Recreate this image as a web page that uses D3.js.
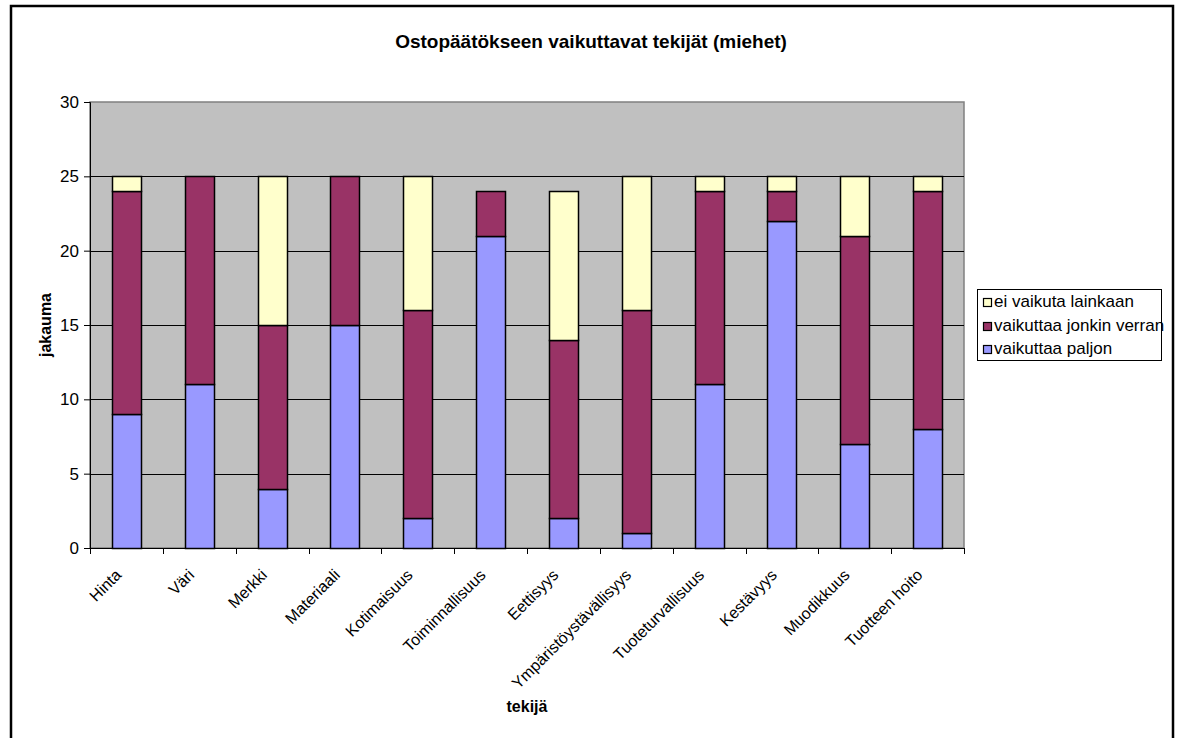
<!DOCTYPE html>
<html>
<head>
<meta charset="utf-8">
<script src="https://cdn.jsdelivr.net/npm/d3@7"></script>
<style>
  html, body { margin: 0; padding: 0; background: #fff; }
  svg { display: block; font-family: "Liberation Sans", Arial, sans-serif; }
</style>
</head>
<body>
<svg id="chart" width="1179" height="738"></svg>
<script>
// Categories (factors) and the three response levels, stacked bottom to top
const categories = ["Hinta", "Väri", "Merkki", "Materiaali", "Kotimaisuus", "Toiminnallisuus",
  "Eettisyys", "Ympäristöystävällisyys", "Tuoteturvallisuus", "Kestävyys", "Muodikkuus", "Tuotteen hoito"];
const paljon = [9, 11, 4, 15, 2, 21, 2, 1, 11, 22, 7, 8];
const jonkinVerran = [15, 14, 11, 10, 14, 3, 12, 15, 13, 2, 14, 16];
const eiLainkaan = [1, 0, 10, 0, 9, 0, 10, 9, 1, 1, 4, 1];
const seriesNames = ["vaikuttaa paljon", "vaikuttaa jonkin verran", "ei vaikuta lainkaan"];
const seriesColors = ["#9999ff", "#993366", "#ffffcc"];
const yTicks = [0, 5, 10, 15, 20, 25, 30];

const svg = d3.select("#chart");
const plot = { left: 90, top: 102, right: 964, bottom: 548 };
const FONT = 17;

// Outer chart border
svg.append("rect").attr("x", 11).attr("y", 6).attr("width", 1162).attr("height", 740)
  .attr("fill", "#fff").attr("stroke", "#000").attr("stroke-width", 2.5);

const rows = categories.map((c, i) => ({ cat: c, s0: paljon[i], s1: jonkinVerran[i], s2: eiLainkaan[i] }));
const stack = d3.stack().keys(["s0", "s1", "s2"])(rows);

const x = d3.scaleBand().domain(categories).range([plot.left, plot.right]).paddingInner(0.6).paddingOuter(0.3);
const xStep = d3.scaleBand().domain(categories).range([plot.left, plot.right]);
const y = d3.scaleLinear().domain([0, 30]).range([plot.bottom, plot.top]);

// Plot background
svg.append("rect").attr("x", plot.left).attr("y", plot.top)
  .attr("width", plot.right - plot.left).attr("height", plot.bottom - plot.top)
  .attr("fill", "#c0c0c0").attr("stroke", "#808080").attr("stroke-width", 1.5);

// Gridlines
svg.append("g").selectAll("line").data(yTicks.filter(t => t > 0 && t < 30)).join("line")
  .attr("x1", plot.left).attr("x2", plot.right)
  .attr("y1", d => Math.round(y(d)) + 0.5).attr("y2", d => Math.round(y(d)) + 0.5)
  .attr("stroke", "#000").attr("stroke-width", 1);

// Bars
svg.append("g").selectAll("g").data(stack).join("g")
  .attr("fill", (d, i) => seriesColors[i])
  .selectAll("rect").data(d => d.filter(p => p[1] - p[0] > 0)).join("rect")
  .attr("x", d => Math.round(x(d.data.cat)) + 0.5)
  .attr("width", Math.round(x.bandwidth()))
  .attr("y", d => Math.round(y(d[1])) + 0.5)
  .attr("height", d => Math.round(y(d[0])) - Math.round(y(d[1])))
  .attr("stroke", "#000").attr("stroke-width", 1.5);

// Y axis
const yAxis = d3.axisLeft(y).tickValues(yTicks).tickSize(6).tickPadding(5).tickFormat(d3.format("d"));
const gy = svg.append("g").attr("transform", `translate(${plot.left},0)`).call(yAxis);
gy.attr("font-size", FONT).attr("font-family", "Liberation Sans, Arial, sans-serif");
gy.select(".domain").attr("stroke", "#000");
gy.selectAll(".tick line").attr("stroke", "#000");
gy.selectAll("text").attr("fill", "#000");

// X axis with ticks between categories
const gx = svg.append("g").attr("transform", `translate(0,${plot.bottom})`);
gx.append("line").attr("x1", plot.left).attr("x2", plot.right).attr("y1", 0.5).attr("y2", 0.5)
  .attr("stroke", "#000").attr("stroke-width", 1);
const tickXs = categories.map(c => xStep(c)).concat([plot.right]);
gx.selectAll("line.tk").data(tickXs).join("line").attr("class", "tk")
  .attr("x1", d => Math.round(d) + 0.5).attr("x2", d => Math.round(d) + 0.5)
  .attr("y1", 0).attr("y2", 6).attr("stroke", "#000");
gx.selectAll("text").data(categories).join("text")
  .attr("transform", d => `translate(${x(d) + x.bandwidth() / 2 - 4},${28}) rotate(-45)`)
  .attr("text-anchor", "end").attr("font-size", 16).attr("fill", "#000")
  .text(d => d);

// Titles
svg.append("text").attr("x", 591).attr("y", 48).attr("text-anchor", "middle")
  .attr("font-size", 19).attr("font-weight", "bold").text("Ostopäätökseen vaikuttavat tekijät (miehet)");
svg.append("text").attr("x", 527).attr("y", 712).attr("text-anchor", "middle")
  .attr("font-size", 16).attr("font-weight", "bold").text("tekijä");
svg.append("text").attr("transform", "translate(51,325) rotate(-90)").attr("text-anchor", "middle")
  .attr("font-size", 16).attr("font-weight", "bold").text("jakauma");

// Legend (top entry is the top of the stack)
const legend = svg.append("g");
legend.append("rect").attr("x", 977.5).attr("y", 289.5).attr("width", 184).attr("height", 71)
  .attr("fill", "#fff").attr("stroke", "#000").attr("stroke-width", 1);
const legendOrder = [2, 1, 0];
legendOrder.forEach((si, r) => {
  const base = 307 + r * 23.5;
  legend.append("rect").attr("x", 983.5).attr("y", Math.round(base - 8) - 0.5).attr("width", 8).attr("height", 8)
    .attr("fill", seriesColors[si]).attr("stroke", "#000").attr("stroke-width", 1.2);
  legend.append("text").attr("x", 994).attr("y", base).attr("font-size", FONT).text(seriesNames[si]);
});
</script>
</body>
</html>
